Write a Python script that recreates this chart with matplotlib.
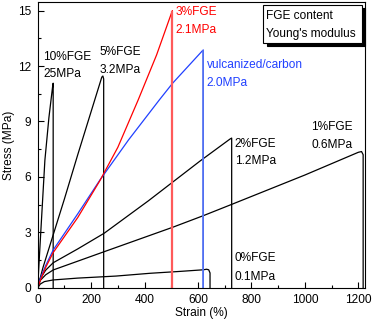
import numpy as np
import matplotlib.pyplot as plt
from matplotlib.patches import Rectangle
from matplotlib.ticker import MultipleLocator

plt.rcParams['font.family'] = ['Liberation Sans', 'DejaVu Sans']
plt.rcParams['font.size'] = 8.6

# stress-strain curves (strain %, stress MPa)
strain_10 = [0, 10, 27, 42, 56, 58, 58]
stress_10 = [0, 2.6, 6.9, 9.2, 10.9, 11.07, 0]

strain_5 = [0, 20, 100, 150, 240, 244, 247, 247]
stress_5 = [0, 1.1, 4.8, 7.2, 11.4, 11.46, 11.3, 0]

strain_3 = [0, 10, 30, 58, 150, 233, 300, 376, 445, 504, 504]
stress_3 = [0, 0.4, 1.1, 1.9, 3.8, 5.8, 7.6, 10.16, 12.6, 15.0, 0]

strain_vc = [0, 10, 30, 58, 150, 233, 340, 455, 505, 618, 620, 620]
stress_vc = [0, 0.5, 1.2, 2.04, 4.0, 5.83, 8.0, 10.16, 11.07, 12.85, 12.87, 0]

strain_2 = [0, 10, 30, 58, 150, 249, 414, 607, 720, 726, 726]
stress_2 = [0, 0.5, 0.95, 1.35, 2.1, 2.95, 4.7, 6.85, 8.05, 8.1, 0]

strain_1 = [0, 10, 30, 58, 249, 505, 620, 726, 1000, 1200, 1212, 1218, 1218]
stress_1 = [0, 0.4, 0.7, 0.96, 1.95, 3.27, 3.9, 4.51, 6.1, 7.33, 7.37, 7.2, 0]

strain_0 = [0, 10, 25, 58, 150, 293, 420, 530, 620, 632, 640, 645, 645]
stress_0 = [0, 0.2, 0.33, 0.42, 0.52, 0.63, 0.78, 0.88, 0.97, 1.0, 0.97, 0.8, 0]

fig = plt.figure(figsize=(3.73, 3.22), dpi=100)
ax = fig.add_axes([0.101, 0.1065, 0.8776, 0.8864])

ax.plot(strain_10, stress_10, color='black', lw=0.9)
ax.plot(strain_5, stress_5, color='black', lw=0.9)
ax.plot(strain_2, stress_2, color='black', lw=0.9)
ax.plot(strain_1, stress_1, color='black', lw=0.9)
ax.plot(strain_0, stress_0, color='black', lw=0.9)
ax.plot(strain_vc, stress_vc, color='#2040ff', lw=0.9)
ax.vlines(strain_vc[-1], 0, max(stress_vc), color='#5a78f0', lw=1.2)
ax.plot(strain_3, stress_3, color='#ff0000', lw=0.9)
ax.vlines(strain_3[-1], 0, max(stress_3), color='#ff5a5a', lw=1.6)

# curve labels
ax.text(20, 12.33, '10%FGE')
ax.text(20, 11.41, '25MPa')
ax.text(233, 12.6, '5%FGE')
ax.text(233, 11.64, '3.2MPa')
ax.text(516, 14.76, '3%FGE', color='#ff0000')
ax.text(516, 13.77, '2.1MPa', color='#ff0000')
ax.text(632, 11.91, 'vulcanized/carbon', color='#2040ff')
ax.text(632, 10.92, '2.0MPa', color='#2040ff')
ax.text(738, 7.63, '2%FGE')
ax.text(738, 6.70, '1.2MPa')
ax.text(1023, 8.54, '1%FGE')
ax.text(1023, 7.58, '0.6MPa')
ax.text(738, 1.45, '0%FGE')
ax.text(738, 0.42, '0.1MPa')

# key box with shadow
tr = ax.transAxes
ax.add_patch(Rectangle((0.700, 0.8479), 0.301, 0.1321, transform=tr,
                       fc='black', ec='black', lw=0.8, clip_on=False, zorder=4))
ax.add_patch(Rectangle((0.689, 0.8584), 0.301, 0.1321, transform=tr,
                       fc='white', ec='black', lw=0.8, clip_on=False, zorder=5))
ax.text(0.6975, 0.9415, 'FGE content', transform=tr, zorder=6)
ax.text(0.6975, 0.8795, "Young's modulus", transform=tr, zorder=6)

ax.set_xlim(0, 1225)
ax.set_ylim(0, 15.45)
ax.xaxis.set_major_locator(MultipleLocator(200))
ax.xaxis.set_minor_locator(MultipleLocator(100))
ax.yaxis.set_major_locator(MultipleLocator(3))
ax.yaxis.set_minor_locator(MultipleLocator(1.5))
ax.tick_params(which='both', direction='in', top=False, right=False)
ax.tick_params(which='major', length=4, width=0.8, pad=4.5)
ax.tick_params(which='minor', length=2.5, width=0.8)
for s in ax.spines.values():
    s.set_linewidth(0.8)

ax.set_xlabel('Strain (%)', labelpad=1)
ax.set_ylabel('Stress (MPa)', labelpad=2)

fig.savefig('out.png', dpi=100)
